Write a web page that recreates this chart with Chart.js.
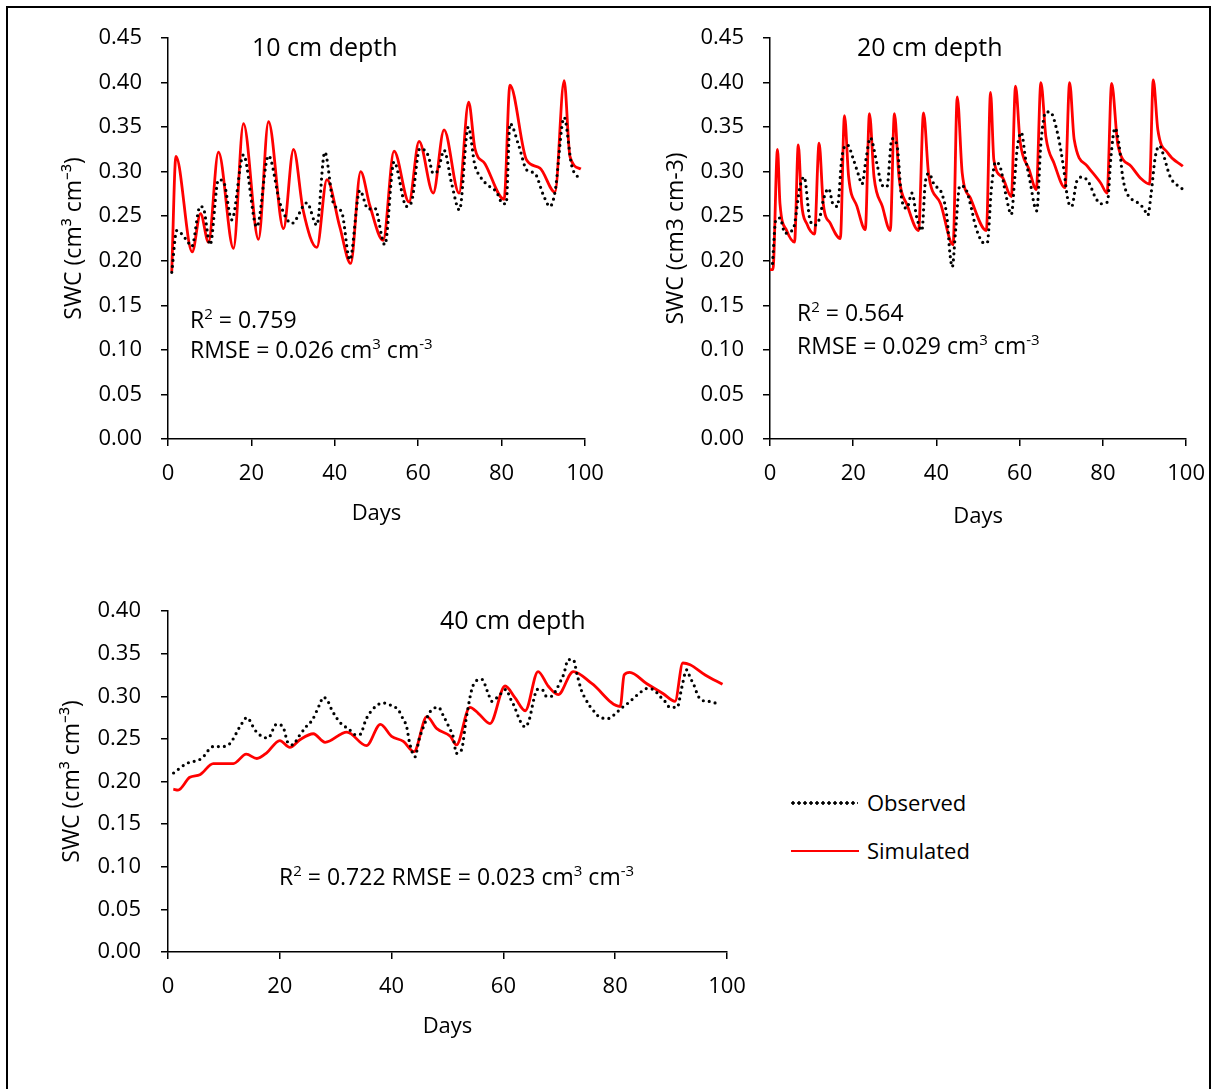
<!DOCTYPE html>
<html lang="en">
<head>
<meta charset="UTF-8">
<title>Soil water content: observed vs simulated</title>
<script src="https://cdn.jsdelivr.net/npm/chart.js"></script>
<style>
  body { margin: 0; background: #fff; font-family: "Open Sans", sans-serif; color: #000; }
  #page { position: relative; width: 1214px; height: 1089px; overflow: hidden; }
  #frame { position: absolute; left: 6px; top: 6px; width: 1205px; height: 1100px; border: 2px solid #000; box-sizing: border-box; }
  canvas { position: absolute; }
  .lbl { position: absolute; font-size: 23px; line-height: 30px; white-space: nowrap; }
  .leg { position: absolute; font-size: 22px; line-height: 30px; white-space: nowrap; }
  .ttl { position: absolute; font-size: 25px; line-height: 25px; white-space: nowrap; }
  sup { font-size: 15px; line-height: 0; vertical-align: 9px; }
  .dots { position: absolute; width: 68px; height: 4px;
          background-image: radial-gradient(circle, #000 1.5px, transparent 1.9px);
          background-size: 6px 4px; }
  .solid { position: absolute; width: 68px; height: 0; border-top: 2px solid #ff0000; }
</style>
</head>
<body>
<div id="page">
  <div id="frame"></div>
  <canvas id="c10" width="625" height="534" style="left:0;top:0"></canvas>
  <canvas id="c20" width="620" height="534" style="left:600px;top:0"></canvas>
  <canvas id="c40" width="780" height="489" style="left:0;top:560px"></canvas>

  <div class="ttl" style="left:252px;top:34px">10 cm depth</div>
  <div class="ttl" style="left:857px;top:34px">20 cm depth</div>
  <div class="ttl" style="left:440px;top:607px">40 cm depth</div>

  <div class="lbl" style="left:190px;top:304px">R<sup>2</sup> = 0.759<br>RMSE = 0.026 cm<sup>3</sup> cm<sup>-3</sup></div>
  <div class="lbl" style="left:797px;top:296px;line-height:33px">R<sup>2</sup> = 0.564<br>RMSE = 0.029 cm<sup>3</sup> cm<sup>-3</sup></div>
  <div class="lbl" style="left:279px;top:861px">R<sup>2</sup> = 0.722 RMSE = 0.023 cm<sup>3</sup> cm<sup>-3</sup></div>

  <div class="dots" style="left:790px;top:801px"></div>
  <div class="leg" style="left:867px;top:787px">Observed</div>
  <div class="solid" style="left:791px;top:850px"></div>
  <div class="leg" style="left:867px;top:835px">Simulated</div>
</div>

<script>
  // 10 cm depth
  const obs10Days = [0.9, 2.1, 4.5, 5.7, 7.7, 8.5, 10.1, 12.1, 13.3, 15.3, 18.1, 21.3, 24.1, 26.9, 29.7, 33.3, 35.7, 37.6, 39.7, 41.7, 43.6, 46.0, 48.0, 49.6, 52.0, 54.2, 57.2, 58.4, 60.4, 62.4, 63.6, 64.8, 66.2, 68.0, 69.9, 72.0, 73.6, 74.8, 76.4, 78.8, 80.3, 81.1, 82.0, 84.2, 86.0, 88.0, 90.0, 91.6, 92.8, 95.0, 96.8, 98.6];
  const obs10Swc = [0.187, 0.234, 0.223, 0.216, 0.261, 0.259, 0.218, 0.291, 0.289, 0.246, 0.319, 0.238, 0.318, 0.264, 0.242, 0.265, 0.240, 0.322, 0.264, 0.254, 0.201, 0.279, 0.258, 0.259, 0.218, 0.311, 0.261, 0.266, 0.326, 0.318, 0.298, 0.302, 0.324, 0.287, 0.257, 0.350, 0.307, 0.295, 0.286, 0.277, 0.264, 0.264, 0.354, 0.328, 0.302, 0.298, 0.274, 0.261, 0.277, 0.361, 0.307, 0.292];
  const sim10Days = [0.9, 1.9, 5.8, 7.8, 9.7, 12.1, 15.7, 18.1, 21.7, 24.1, 27.7, 30.1, 32.4, 35.7, 38.1, 41.2, 43.8, 46.2, 48.4, 51.6, 54.2, 57.8, 60.2, 63.6, 66.2, 69.8, 72.1, 73.6, 76.0, 80.6, 82.0, 86.0, 89.2, 92.8, 95.0, 96.4, 99.0];
  const sim10Swc = [0.188, 0.317, 0.210, 0.253, 0.221, 0.322, 0.214, 0.354, 0.224, 0.356, 0.236, 0.325, 0.257, 0.215, 0.291, 0.238, 0.197, 0.300, 0.262, 0.223, 0.323, 0.266, 0.334, 0.276, 0.347, 0.276, 0.378, 0.326, 0.309, 0.269, 0.397, 0.313, 0.304, 0.277, 0.402, 0.317, 0.303];

  // 20 cm depth
  const obs20Days = [0.6, 1.4, 2.4, 3.6, 5.6, 7.2, 8.2, 9.6, 10.8, 12.0, 12.8, 14.1, 15.1, 16.2, 17.3, 18.6, 20.1, 21.3, 22.1, 23.1, 24.1, 25.7, 26.9, 28.1, 29.3, 30.5, 31.7, 32.9, 34.1, 35.3, 36.5, 37.3, 38.2, 39.4, 41.4, 42.6, 43.2, 43.8, 44.6, 45.6, 46.7, 48.6,
                     49.0, 50.2, 51.4, 52.2, 53.2, 54.2, 55.4, 56.6, 58.0, 58.8, 59.4, 60.4, 61.4, 62.5, 63.6, 64.1, 65.1, 66.3, 67.3, 69.2, 70.5, 71.6, 72.5, 73.7, 75.1, 76.7, 78.1, 79.5, 81.1, 81.9, 82.9, 83.9, 84.7, 85.5, 88.4, 89.8, 90.8, 91.6, 92.6, 93.6, 94.4, 96.2, 99.0];
  const obs20Swc = [0.197, 0.246, 0.248, 0.231, 0.236, 0.283, 0.294, 0.246, 0.240, 0.249, 0.268, 0.281, 0.264, 0.261, 0.317, 0.330, 0.313, 0.296, 0.286, 0.315, 0.338, 0.309, 0.285, 0.283, 0.337, 0.330, 0.268, 0.259, 0.276, 0.248, 0.234, 0.287, 0.298, 0.286, 0.274, 0.246, 0.210, 0.193, 0.234, 0.284, 0.283, 0.255,
                    0.246, 0.228, 0.220, 0.220, 0.281, 0.311, 0.304, 0.276, 0.252, 0.292, 0.326, 0.344, 0.315, 0.289, 0.261, 0.256, 0.332, 0.367, 0.367, 0.341, 0.306, 0.268, 0.261, 0.289, 0.294, 0.287, 0.272, 0.264, 0.266, 0.315, 0.349, 0.330, 0.296, 0.279, 0.265, 0.259, 0.251, 0.276, 0.317, 0.329, 0.321, 0.294, 0.281];
  const sim20Days = [0, 0.7, 1.8, 2.4, 4.0, 5.9, 6.8, 7.6, 8.8, 10.7, 11.8, 12.8, 14.5, 16.9, 17.9, 18.9, 20.9, 22.9, 23.9, 25.0, 27.0, 28.9, 29.9, 31.0, 33.0, 35.7, 36.9, 38.1, 41.0, 44.0, 45.0, 46.2, 48.2, 52.0, 53.0, 53.8, 55.8, 58.0, 59.0, 60.1, 62.3, 64.0, 65.1, 66.3, 68.3, 70.9, 72.0, 73.1, 76.3, 79.5, 81.0, 82.1, 83.6, 86.8, 89.2, 91.2, 92.1, 93.2, 95.6, 99.2];
  const sim20Swc = [0.190, 0.190, 0.325, 0.264, 0.234, 0.221, 0.330, 0.264, 0.242, 0.230, 0.332, 0.264, 0.242, 0.225, 0.363, 0.294, 0.261, 0.235, 0.365, 0.294, 0.261, 0.234, 0.365, 0.294, 0.262, 0.234, 0.366, 0.298, 0.264, 0.218, 0.384, 0.298, 0.270, 0.234, 0.389, 0.313, 0.294, 0.272, 0.396, 0.334, 0.302, 0.280, 0.400, 0.339, 0.309, 0.282, 0.400, 0.336, 0.306, 0.287, 0.276, 0.399, 0.330, 0.306, 0.292, 0.286, 0.403, 0.347, 0.321, 0.306];

  // 40 cm depth
  const obs40Days = [1.0, 3.3, 6.0, 8.1, 9.6, 11.0, 13.2, 14.1, 15.6, 16.8, 17.9, 19.4, 20.5, 21.5, 22.4, 23.2, 24.8, 25.8, 27.1, 27.8, 28.7, 29.3, 31.1, 32.3, 33.5, 34.3, 35.5, 37.3, 38.6, 40.0, 41.2, 42.0, 42.7, 43.2, 44.2, 44.9, 45.7, 46.9, 48.4, 49.2, 50.4, 51.0, 51.6, 52.5, 53.4, 54.6, 56.1, 57.3, 57.9, 59.1, 60.5, 61.2, 61.9, 63.0, 63.9, 64.6, 65.5, 66.0, 66.9, 67.7, 68.6, 69.5, 70.1, 70.8, 71.6, 72.5, 73.2, 74.0, 74.6, 75.5, 76.4, 77.3, 78.8, 80.1, 81.1, 82.3, 83.5, 84.4, 85.6, 86.8, 88.0, 88.9, 89.8, 91.1, 91.9, 92.8, 93.4, 94.1, 94.6, 95.3, 96.7, 98.0];
  const obs40Swc = [0.210, 0.221, 0.227, 0.241, 0.241, 0.244, 0.268, 0.275, 0.260, 0.253, 0.251, 0.267, 0.265, 0.245, 0.243, 0.251, 0.265, 0.272, 0.290, 0.299, 0.293, 0.284, 0.267, 0.262, 0.255, 0.255, 0.274, 0.289, 0.292, 0.289, 0.284, 0.274, 0.264, 0.246, 0.229, 0.249, 0.264, 0.282, 0.287, 0.278, 0.262, 0.253, 0.233, 0.237, 0.276, 0.313, 0.320, 0.303, 0.294, 0.300, 0.308, 0.298, 0.289, 0.271, 0.264, 0.272, 0.298, 0.308, 0.308, 0.300, 0.300, 0.308, 0.316, 0.326, 0.343, 0.343, 0.325, 0.306, 0.298, 0.288, 0.281, 0.275, 0.274, 0.280, 0.286, 0.292, 0.299, 0.304, 0.309, 0.308, 0.300, 0.294, 0.287, 0.287, 0.310, 0.331, 0.322, 0.313, 0.304, 0.296, 0.294, 0.292];
  const sim40Days = [0.95, 1.8, 3.9, 5.7, 8.1, 11.7, 14.0, 15.9, 17.7, 20.0, 21.8, 23.6, 26.0, 28.1, 32.0, 35.5, 38.0, 40.0, 42.1, 44.0, 46.3, 48.1, 50.5, 51.6, 54.0, 55.5, 57.6, 60.3, 62.1, 63.9, 66.2, 68.0, 69.8, 72.5, 75.8, 80.9, 81.6, 82.6, 85.6, 88.6, 90.7, 92.1, 93.4, 96.1, 99.2];
  const sim40Swc = [0.191, 0.190, 0.205, 0.208, 0.221, 0.221, 0.232, 0.227, 0.234, 0.248, 0.240, 0.249, 0.256, 0.246, 0.258, 0.242, 0.267, 0.253, 0.247, 0.235, 0.276, 0.262, 0.253, 0.243, 0.287, 0.280, 0.268, 0.312, 0.298, 0.283, 0.329, 0.312, 0.302, 0.329, 0.315, 0.288, 0.325, 0.328, 0.315, 0.303, 0.294, 0.339, 0.337, 0.325, 0.314];

  Chart.defaults.font.family = "'Open Sans', sans-serif";
  Chart.defaults.color = '#000';

  const pts = (days, vals) => days.map((d, i) => ({ x: d, y: vals[i] }));

  function datasets(oD, oV, sD, sV) {
    return [
      { label: 'Observed', data: pts(oD, oV), borderColor: '#000', borderWidth: 3.2,
        borderDash: [0, 6], borderCapStyle: 'round', cubicInterpolationMode: 'monotone', pointRadius: 0 },
      { label: 'Simulated', data: pts(sD, sV), borderColor: '#ff0000', borderWidth: 2.8,
        cubicInterpolationMode: 'monotone', pointRadius: 0 }
    ];
  }

  function options(c) {
    const axisGrid = { drawOnChartArea: false, tickLength: 7, color: '#000', lineWidth: 1.5 };
    const axisBorder = { color: '#000', width: 1.5 };
    return {
      responsive: false,
      animation: false,
      layout: { padding: { left: c.padL, right: c.padR, top: c.padT, bottom: 0 } },
      plugins: { legend: { display: false }, tooltip: { enabled: false } },
      scales: {
        x: {
          type: 'linear', min: 0, max: 100,
          ticks: { stepSize: 20, font: { size: 22 }, padding: c.xTickPad, maxRotation: 0 },
          grid: axisGrid, border: axisBorder,
          title: { display: true, text: 'Days', font: { size: 22 }, padding: { top: 0, bottom: c.xTitlePad } },
          afterFit(s) { s.height = c.xH; }
        },
        y: {
          min: 0, max: c.yMax,
          ticks: { stepSize: 0.05, font: { size: 22 }, padding: c.yTickPad, callback: v => v.toFixed(2) },
          grid: axisGrid, border: axisBorder,
          title: { display: true, text: c.yTitle, font: { size: 23 }, padding: { top: 0, bottom: 0 } },
          afterFit(s) { s.width = c.yW; }
        }
      }
    };
  }

  new Chart(document.getElementById('c10'), {
    type: 'line',
    data: { datasets: datasets(obs10Days, obs10Swc, sim10Days, sim10Swc) },
    options: options({ padL: 61, padR: 40, padT: 38, yW: 107, xH: 95, yMax: 0.45,
      yTitle: 'SWC (cm³ cm⁻³)', xTickPad: 15, xTitlePad: 7, yTickPad: 19 })
  });

  // the x tick padding adds to the right-hand room Chart.js keeps for "100",
  // so this canvas runs a little past the page edge
  new Chart(document.getElementById('c20'), {
    type: 'line',
    data: { datasets: datasets(obs20Days, obs20Swc, sim20Days, sim20Swc) },
    options: options({ padL: 63, padR: 24, padT: 38, yW: 107, xH: 95, yMax: 0.45,
      yTitle: 'SWC (cm3 cm-3)', xTickPad: 15, xTitlePad: 4, yTickPad: 19 })
  });

  new Chart(document.getElementById('c40'), {
    type: 'line',
    data: { datasets: datasets(obs40Days, obs40Swc, sim40Days, sim40Swc) },
    options: options({ padL: 59, padR: 53, padT: 51, yW: 109, xH: 97, yMax: 0.40,
      yTitle: 'SWC (cm³ cm⁻³)', xTickPad: 15, xTitlePad: 9, yTickPad: 20 })
  });
</script>
</body>
</html>
